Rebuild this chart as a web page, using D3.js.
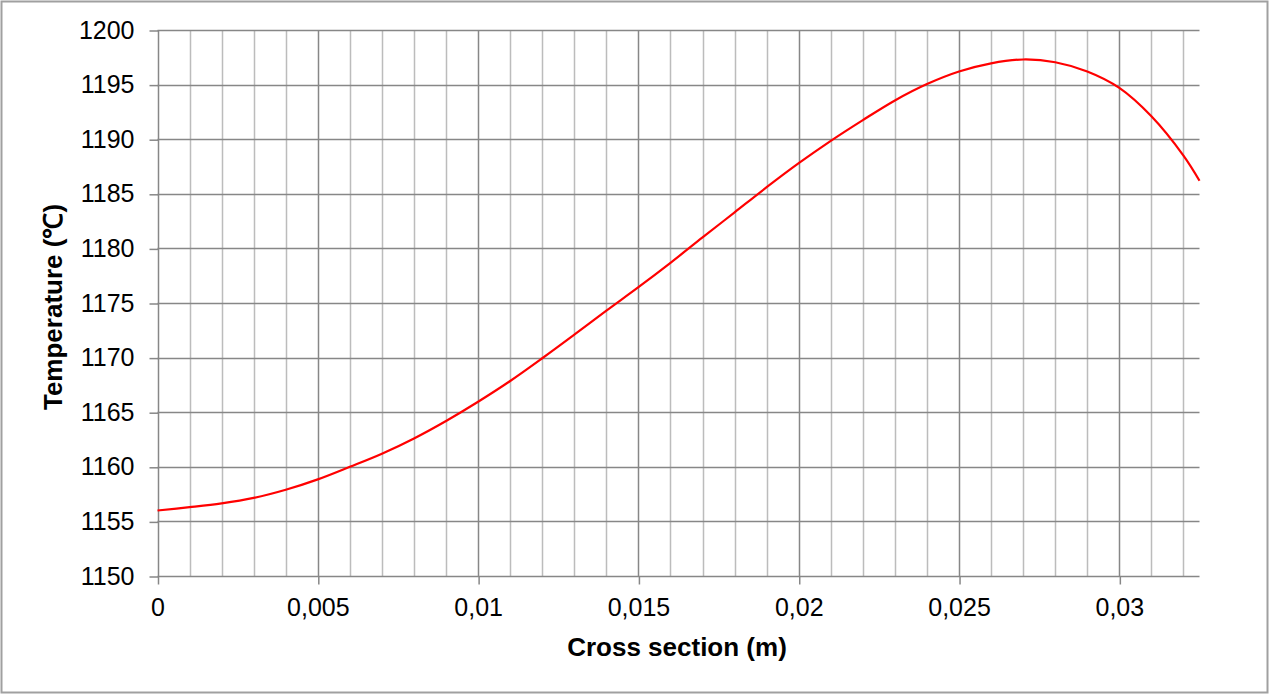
<!DOCTYPE html>
<html>
<head>
<meta charset="utf-8">
<script src="https://cdn.jsdelivr.net/npm/d3@7/dist/d3.min.js"></script>
<style>
  html, body { margin: 0; padding: 0; background: #fff; }
  svg { display: block; font-family: "Liberation Sans", Arial, sans-serif; }
</style>
</head>
<body>
<svg id="chart" width="1270" height="694"></svg>
<script>
// Temperature profile across the section (m -> °C)
const positions = [0, 0.001, 0.002, 0.003, 0.004, 0.005, 0.006, 0.007, 0.008, 0.009,
  0.010, 0.011, 0.012, 0.013, 0.014, 0.015, 0.016, 0.017, 0.018, 0.019,
  0.020, 0.021, 0.022, 0.023, 0.024, 0.025, 0.026, 0.027, 0.028, 0.029,
  0.030, 0.031, 0.032, 0.0325];
const temperatures = [1156.0, 1156.3, 1156.65, 1157.15, 1157.9, 1158.85, 1160.0, 1161.2, 1162.6, 1164.2,
  1165.96, 1167.86, 1169.94, 1172.1, 1174.3, 1176.45, 1178.68, 1181.0, 1183.3, 1185.6,
  1187.8, 1189.85, 1191.75, 1193.55, 1195.05, 1196.2, 1196.95, 1197.3, 1197.05, 1196.2,
  1194.7, 1192.1, 1188.5, 1186.2];

const xMajorTicks = [0, 0.005, 0.01, 0.015, 0.02, 0.025, 0.03];
const xMinorTicks = d3.range(1, 33).map(i => i / 1000);
const yTicks = [1150, 1155, 1160, 1165, 1170, 1175, 1180, 1185, 1190, 1195, 1200];
const xTickLabels = ["0", "0,005", "0,01", "0,015", "0,02", "0,025", "0,03"];

const xTitle = "Cross section (m)";
const yTitle = "Temperature (℃)";

const svg = d3.select("#chart");
const W = 1270, H = 694;
const plot = { left: 157.5, right: 1199.5, top: 30, bottom: 576 };

// chart frame
svg.append("rect")
  .attr("x", 1.5).attr("y", 1.5)
  .attr("width", W - 4).attr("height", H - 3)
  .attr("fill", "#fff").attr("stroke", "#a0a0a0").attr("stroke-width", 2);

const x = d3.scaleLinear().domain([0, 0.0325]).range([plot.left, plot.right]);
const y = d3.scaleLinear().domain([1150, 1200]).range([plot.bottom, plot.top]);

const snap = v => Math.round(v) + 0.5;

// minor vertical grid
svg.append("g").selectAll("line")
  .data(xMinorTicks.filter(t => Math.round(t * 1000) % 5 !== 0))
  .join("line")
  .attr("x1", d => snap(x(d))).attr("x2", d => snap(x(d)))
  .attr("y1", plot.top).attr("y2", plot.bottom)
  .attr("stroke", "#bcbcbc").attr("stroke-width", 1.5);

// major vertical grid
svg.append("g").selectAll("line")
  .data(xMajorTicks)
  .join("line")
  .attr("x1", d => snap(x(d))).attr("x2", d => snap(x(d)))
  .attr("y1", plot.top).attr("y2", plot.bottom)
  .attr("stroke", "#878787").attr("stroke-width", 1.5);

// horizontal grid
svg.append("g").selectAll("line")
  .data(yTicks)
  .join("line")
  .attr("x1", plot.left).attr("x2", plot.right)
  .attr("y1", d => snap(y(d))).attr("y2", d => snap(y(d)))
  .attr("stroke", "#878787").attr("stroke-width", 1.5);

// y axis
const yAxis = d3.axisLeft(y).tickValues(yTicks).tickSize(9).tickPadding(15).tickFormat(d3.format("d"));
const gy = svg.append("g").attr("transform", `translate(${snap(x(0))},0)`).call(yAxis);
gy.select(".domain").remove();
gy.selectAll(".tick line").attr("stroke", "#878787").attr("stroke-width", 1.5)
  .attr("transform", "translate(0,0.5)");
gy.selectAll(".tick text").attr("font-size", 25).attr("fill", "#000")
  .attr("font-family", "Liberation Sans, Arial, sans-serif");

// x axis
const xAxis = d3.axisBottom(x).tickValues(xMajorTicks).tickSize(8).tickPadding(14)
  .tickFormat((d, i) => xTickLabels[i]);
const gx = svg.append("g").attr("transform", `translate(0,${snap(y(1150))})`).call(xAxis);
gx.select(".domain").remove();
gx.selectAll(".tick line").attr("stroke", "#878787").attr("stroke-width", 1.5)
  .attr("transform", "translate(0.5,0)");
gx.selectAll(".tick text").attr("font-size", 25).attr("fill", "#000")
  .attr("font-family", "Liberation Sans, Arial, sans-serif");

// temperature curve
const line = d3.line()
  .x((d, i) => x(positions[i]))
  .y(d => y(d))
  .curve(d3.curveCatmullRom.alpha(0.5));
svg.append("path")
  .datum(temperatures)
  .attr("d", line)
  .attr("fill", "none")
  .attr("stroke", "#ff0000")
  .attr("stroke-width", 2.2);

// axis titles
svg.append("text")
  .attr("x", 677).attr("y", 656)
  .attr("text-anchor", "middle")
  .attr("font-size", 26).attr("font-weight", "bold")
  .text(xTitle);

svg.append("text")
  .attr("transform", `translate(62,307) rotate(-90)`)
  .attr("text-anchor", "middle")
  .attr("font-size", 26).attr("font-weight", "bold")
  .text(yTitle);
</script>
</body>
</html>
